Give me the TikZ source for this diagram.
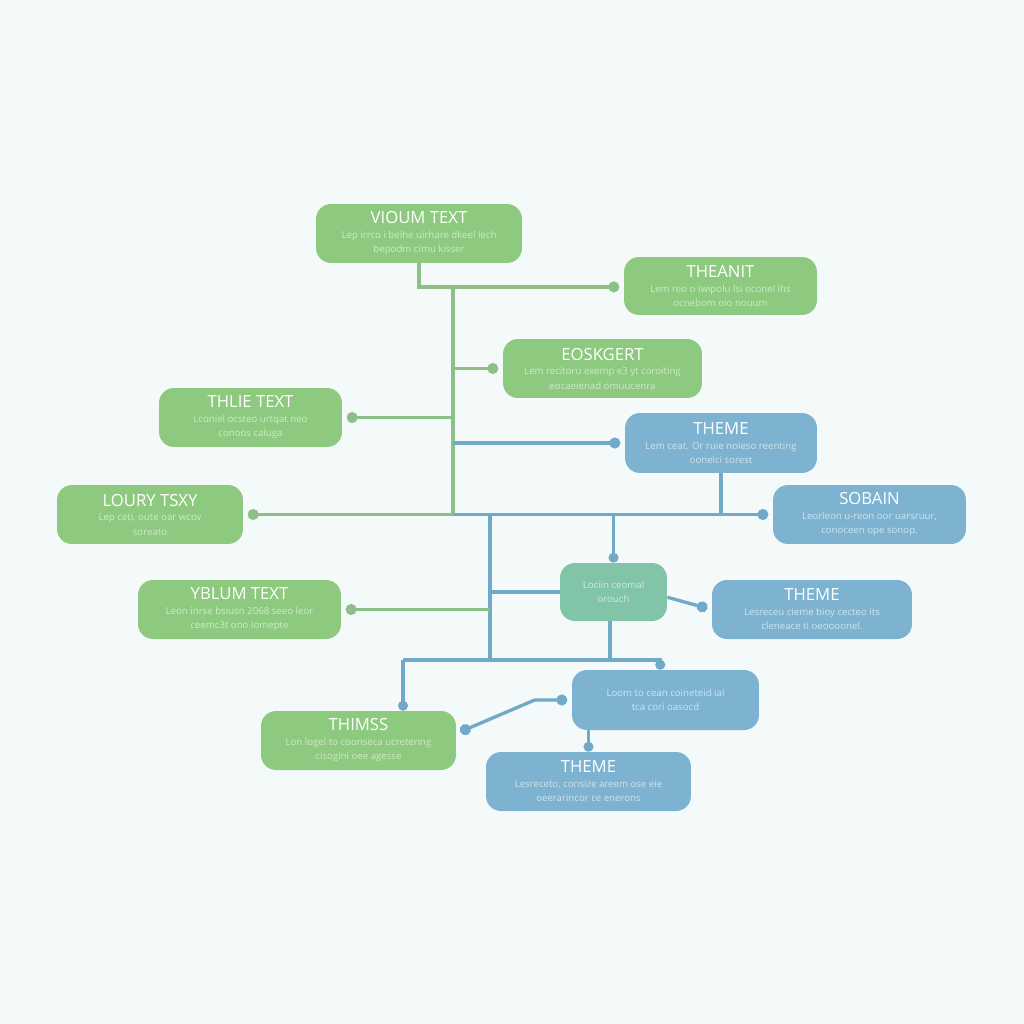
\documentclass[tikz,border=0pt]{standalone}
\usepackage{fontspec}
\setmainfont{Open Sans}
\usepackage{tikz}
\usetikzlibrary{arrows.meta}

\definecolor{bgcol}{HTML}{F4F9FA}
\definecolor{gfill}{HTML}{8DCA80}
\definecolor{bfill}{HTML}{7DB3D0}
\definecolor{tfill}{HTML}{82C4A8}
\definecolor{glinec}{HTML}{8CC088}
\definecolor{blinec}{HTML}{71A9C9}
\definecolor{gbody}{HTML}{CFEAC8}
\definecolor{bbody}{HTML}{CFE4EF}
\definecolor{tbody}{HTML}{CFEBDF}

% two lines of small body text in a box
\newcommand\bodytxt[3]{\fontsize{5.5}{7}\selectfont\color{#1}#2\\\fontsize{5.5}{7}\selectfont\color{#1}#3}

\begin{document}
\begin{tikzpicture}[x=0.02cm, y=-0.02cm,
	box/.style={rounded corners=0.3cm, minimum height=1.18cm, align=center, inner sep=0pt, text=white, font=\fontsize{9.5}{8}\selectfont},
	gbox/.style={box, fill=gfill},
	bbox/.style={box, fill=bfill},
	gl/.style={draw=glinec, line width=1.9pt},
	bl/.style={draw=blinec, line width=1.9pt},
	tipdot/.style={-{Circle[length=6.2pt]}, shorten >=2.5pt},
	tipin/.style={-{Circle[length=5.6pt]}}]

	\useasboundingbox[fill=bgcol] (0,0) rectangle (1024,1024);

	% boxes
	\node[gbox, minimum width=4.12cm] (vioum) at (419,233.5) {VIOUM TEXT\\[0.5pt]\bodytxt{gbody}{Lep irrco i belhe uirhare dkeel lech}{bepodm cimu kisser}};
	\node[gbox, minimum width=3.86cm, minimum height=1.16cm] (theanit) at (720.5,286) {THEANIT\\[0.5pt]\bodytxt{gbody}{Lem reo o iwipolu lsi oconel ihs}{ocnebom oio nouum}};
	\node[gbox, minimum width=3.98cm] (eoskgert) at (602.5,368.5) {EOSKGERT\\[0.5pt]\bodytxt{gbody}{Lem recitoru exemp e3 yt coroiting}{eocaeienad omuucenra}};
	\node[gbox, minimum width=3.66cm] (thlie) at (250.5,417.5) {THLIE TEXT\\[0.5pt]\bodytxt{gbody}{Lconiel ocsteo urtqat neo}{conoos caluga}};
	\node[bbox, minimum width=3.84cm, minimum height=1.2cm] (themea) at (721,443) {THEME\\[0.5pt]\bodytxt{bbody}{Lem ceat. Or ruie noieso reenting}{oonelci sorest}};
	\node[gbox, minimum width=3.72cm] (loury) at (150,514.5) {LOURY TSXY\\[0.5pt]\bodytxt{gbody}{Lep ceti, oute oar wcov}{soreato}};
	\node[bbox, minimum width=3.86cm] (sobain) at (869.5,514.5) {SOBAIN\\[0.5pt]\bodytxt{bbody}{Leorleon u-reon oor uarsruur,}{conoceen ope sonop.}};
	\node[box, fill=tfill, minimum width=2.14cm, minimum height=1.16cm] (lorem) at (613.5,592) {\bodytxt{tbody}{Lociin ceomal}{orouch}};
	\node[gbox, minimum width=4.06cm] (yblum) at (239.5,609.5) {YBLUM TEXT\\[0.5pt]\bodytxt{gbody}{Leon inrse bsiusn 2068 seeo leor}{ceemc3t ono iomepte}};
	\node[bbox, minimum width=4cm] (themeb) at (812,609.5) {THEME\\[0.5pt]\bodytxt{bbody}{Lesreceu cieme bioy cecteo its}{cleneace ti oeoooonel.}};
	\node[bbox, minimum width=3.74cm, minimum height=1.2cm] (loom) at (665.5,700) {\bodytxt{bbody}{Loom to cean coineteid ial}{tca cori oasocd}};
	\node[gbox, minimum width=3.9cm] (thimss) at (358.5,740.5) {THIMSS\\[0.5pt]\bodytxt{gbody}{Lon logel to coonseca ucretering}{cisogini oee agesse}};
	\node[bbox, minimum width=4.1cm] (themec) at (588.5,781.5) {THEME\\[0.5pt]\bodytxt{bbody}{Lesreceto, consize areem ose eie}{oeerarincor ce enerons}};

	% green trunk
	\coordinate (gtop) at (453,287);
	\coordinate (gbot) at (453,514.5);
	\draw[gl] (gtop) -- (gbot);
	\draw[gl, tipdot] (vioum.south) |- ([yshift=-0.5pt]theanit.west);
	\draw[gl, tipdot] (gtop |- eoskgert.west) -- (eoskgert.west);
	\draw[gl, tipdot] (gtop |- thlie.east) -- (thlie.east);
	\draw[bl, tipdot] (gtop |- themea.west) -- (themea.west);
	\draw[gl, tipdot] (gbot) -- (loury.east);
	\draw[bl, tipdot] (gbot) -- (sobain.west);
	\draw[bl] (themea.south) -- (themea.south |- gbot);

	% blue branch
	\coordinate (bsplit) at (490,514.5);
	\coordinate (blow) at (490,660);
	\coordinate (bleft) at (403,660);
	\draw[bl] (bsplit) -- (blow);
	\draw[bl, tipin] (lorem.north |- gbot) -- (lorem.north);
	\draw[bl] (bsplit |- lorem.west) -- (lorem.west);
	\draw[gl, tipdot] (bsplit |- yblum.east) -- (yblum.east);
	\draw[bl, tipdot] ([yshift=-3pt]lorem.east) -- (themeb.west);
	\draw[bl] ([xshift=-2pt]lorem.south) -- ([xshift=-2pt]lorem.south |- blow);
	\draw[bl, tipin] (bleft) -- (bleft |- thimss.north);
	\draw[bl, tipin] (bleft) -| ([xshift=-3pt]loom.north);
	\draw[bl, {Circle[length=6.2pt]}-{Circle[length=6.2pt]}, shorten <=2.5pt, shorten >=2.5pt] (loom.west) -- ++(-37,0) -- ([yshift=4pt]thimss.east);
	\draw[bl, tipin] (loom.south -| themec.north) -- (themec.north);
\end{tikzpicture}
\end{document}
